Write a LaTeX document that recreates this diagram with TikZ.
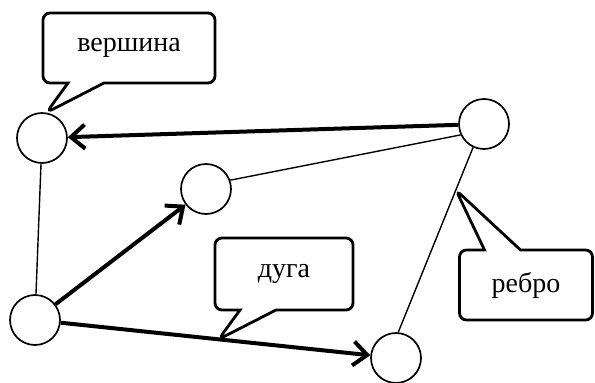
\documentclass[tikz,border=0pt]{standalone}
\usepackage{fontspec}
\setmainfont{Liberation Serif}
\usepackage{tikz}
\usetikzlibrary{arrows.meta,shapes.callouts}

\tikzset{
  vertex/.style={circle,draw,line width=1.7pt,minimum size=50pt,inner sep=0pt},
  edge/.style={line width=1.4pt},
  arc/.style={line width=4pt,-{Straight Barb[length=14pt,width=24pt,line width=4pt]}},
  note/.style={rectangle callout,draw,line width=2.8pt,rounded corners=7pt,fill=white,
    callout pointer width=36pt,inner sep=0pt,font=\fontsize{28}{32}\selectfont}
}

\begin{document}
\begin{tikzpicture}[x=1pt,y=-1pt]
  \useasboundingbox (0,0) rectangle (595,383);
  \node[vertex] (A) at (42,138) {};
  \node[vertex] (B) at (206,189) {};
  \node[vertex] (C) at (35,320) {};
  \node[vertex] (D) at (484,124) {};
  \node[vertex] (E) at (396,358) {};
  \draw[edge] (A) -- (C);
  \draw[edge] (B.20) -- (D.205);
  \draw[edge] (D.245) -- coordinate[pos=0.23] (rp) (E.85);
  \draw[arc] (D) -- (A);
  \draw[arc] (C) -- (B);
  \draw[arc] (C) -- coordinate[pos=0.51] (ap) (E);
  \node[note,minimum width=172pt,minimum height=70pt,callout absolute pointer={(A.80)}] (top) at (129,48) {вершина};
  \node[note,minimum width=138pt,minimum height=72pt,callout absolute pointer={(ap)}] (arclabel) at (284,274) {дуга};
  \node[note,minimum width=133pt,minimum height=70pt,callout absolute pointer={(rp)}] (edgelabel) at (526,285) {ребро};
\end{tikzpicture}
\end{document}
